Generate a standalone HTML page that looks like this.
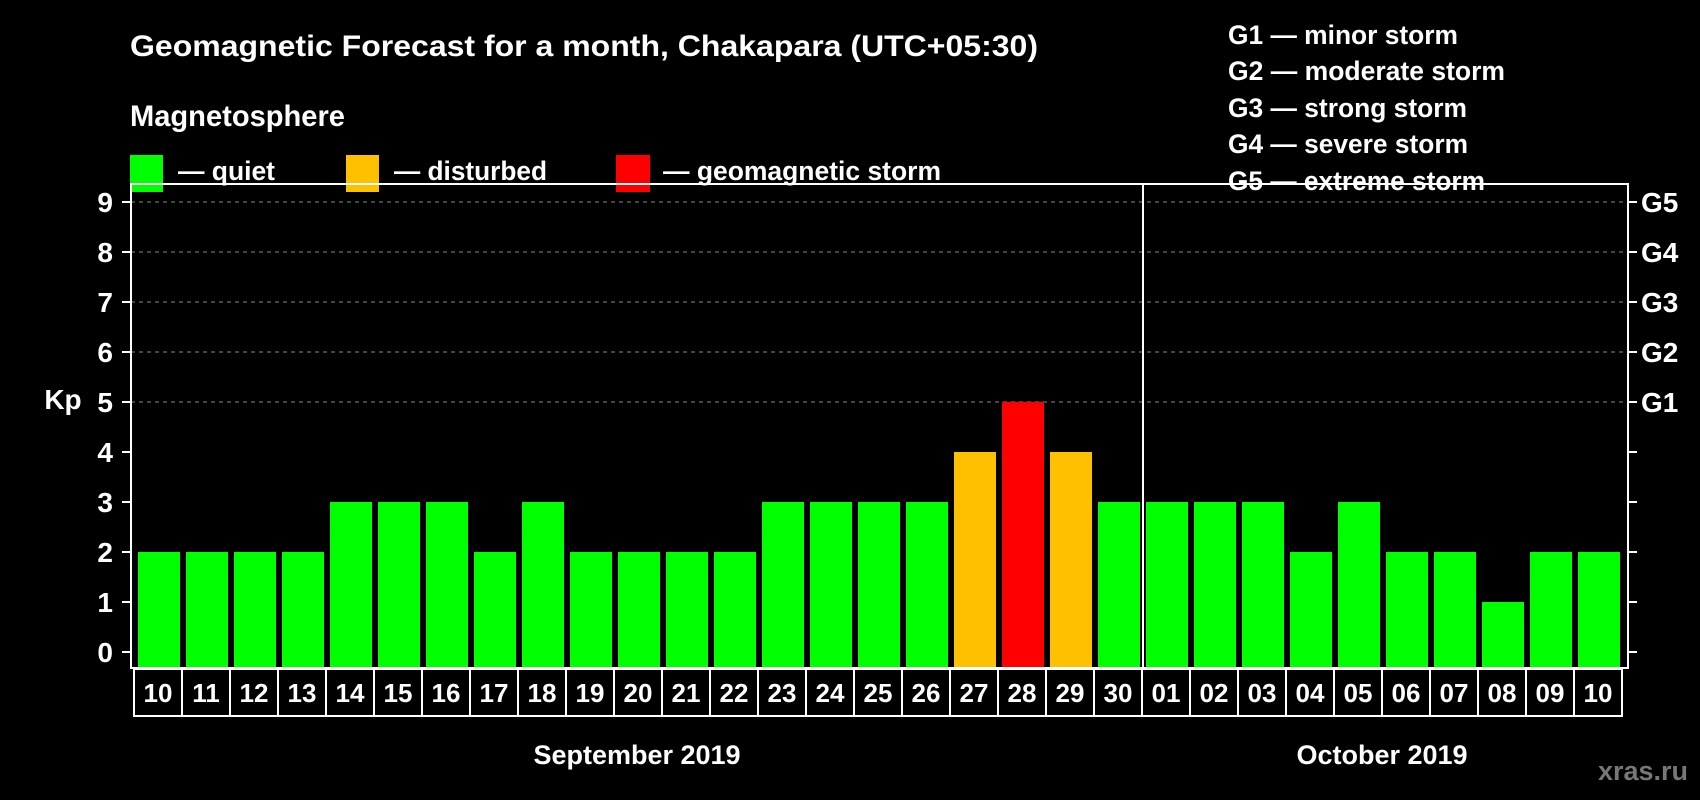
<!DOCTYPE html>
<html><head><meta charset="utf-8"><style>
html,body{margin:0;padding:0;background:#000;}
svg{display:block;font-family:"Liberation Sans",Arial,sans-serif;font-weight:bold;}
</style></head><body>
<svg id="chart" width="1700" height="800" viewBox="0 0 1700 800">
<rect x="0" y="0" width="1700" height="800" fill="#000"/>
<text x="130" y="56" font-size="30" fill="#fff" textLength="908" lengthAdjust="spacingAndGlyphs">Geomagnetic Forecast for a month, Chakapara (UTC+05:30)</text>
<text x="130" y="126" font-size="30" fill="#fff" textLength="215" lengthAdjust="spacingAndGlyphs">Magnetosphere</text>
<g>
<rect x="130" y="155" width="33" height="37" fill="#00ff00"/>
<text x="178" y="157" dy="23" font-size="27" fill="#fff" textLength="97" lengthAdjust="spacingAndGlyphs">— quiet</text></g>
<g>
<rect x="346" y="155" width="33" height="37" fill="#ffc000"/>
<text x="394" y="157" dy="23" font-size="27" fill="#fff" textLength="153" lengthAdjust="spacingAndGlyphs">— disturbed</text></g>
<g>
<rect x="616" y="155" width="34" height="37" fill="#ff0000"/>
<text x="663" y="157" dy="23" font-size="27" fill="#fff" textLength="278" lengthAdjust="spacingAndGlyphs">— geomagnetic storm</text></g>
<g font-size="27" fill="#fff">
<text x="1228" y="44" textLength="230" lengthAdjust="spacingAndGlyphs">G1 — minor storm</text>
<text x="1228" y="80" textLength="277" lengthAdjust="spacingAndGlyphs">G2 — moderate storm</text>
<text x="1228" y="117" textLength="239" lengthAdjust="spacingAndGlyphs">G3 — strong storm</text>
<text x="1228" y="153" textLength="240" lengthAdjust="spacingAndGlyphs">G4 — severe storm</text>
<text x="1228" y="190" textLength="257" lengthAdjust="spacingAndGlyphs">G5 — extreme storm</text>
</g>
<text x="63" y="409" font-size="28" fill="#fff" text-anchor="middle">Kp</text>
<g id="grid"></g>
<g id="bars"></g>
<g id="axes"></g>
<text x="637" y="764" font-size="27" fill="#fff" text-anchor="middle">September 2019</text>
<text x="1382" y="764" font-size="27" fill="#fff" text-anchor="middle">October 2019</text>
<text x="1688" y="780" font-size="27" fill="#777" text-anchor="end">xras.ru</text>
</svg>
<script>
const days = ["10","11","12","13","14","15","16","17","18","19","20","21","22","23","24","25","26","27","28","29","30","01","02","03","04","05","06","07","08","09","10"];
const kpValues = [2,2,2,2,3,3,3,2,3,2,2,2,2,3,3,3,3,4,5,4,3,3,3,3,2,3,2,2,1,2,2];
const yTicks = [0,1,2,3,4,5,6,7,8,9];
const gLabels = ["G1","G2","G3","G4","G5"];
const gLevels = [5,6,7,8,9];
const monthSplitIndex = 21;

const NS = "http://www.w3.org/2000/svg";
const plotL = 131, plotR = 1628, plotT = 184, plotB = 668;
const y0 = 652, unit = 50;
const step = (plotR - plotL - 9) / days.length;
function yScale(v){ return y0 - v*unit; }
function xScale(i){ return plotL + 7 + i*step; }
function mk(tag, attrs, parent){ const e=document.createElementNS(NS,tag); for(const k in attrs) e.setAttribute(k,attrs[k]); parent.appendChild(e); return e; }
function color(v){ return v>=5 ? "#ff0000" : (v>=4 ? "#ffc000" : "#00ff00"); }

const grid = document.getElementById("grid");
gLevels.forEach((v,i)=>{
  const l = mk("line",{x1:plotL,x2:plotR,y1:yScale(v),y2:yScale(v),stroke:"#888","stroke-width":1,"stroke-dasharray":"4,4"},grid);
  
  
});

const bars = document.getElementById("bars");
kpValues.forEach((v,i)=>{
  const top = yScale(v);
  const r = mk("rect",{x:xScale(i),y:top,width:step-6,height:plotB-1-top,fill:color(v)},bars);
  
  
});

const axes = document.getElementById("axes");
const frame = mk("rect",{x:plotL,y:plotT,width:plotR-plotL,height:plotB-plotT,fill:"none",stroke:"#fff","stroke-width":2},axes);


const divX = xScale(monthSplitIndex) - 3;
const div = mk("line",{x1:divX,x2:divX,y1:plotT,y2:plotB,stroke:"#fff","stroke-width":2},axes);


yTicks.forEach(v=>{
  const y = yScale(v);
  mk("line",{x1:plotL-9,x2:plotL,y1:y,y2:y,stroke:"#fff","stroke-width":2},axes);
  mk("line",{x1:plotR,x2:plotR+9,y1:y,y2:y,stroke:"#fff","stroke-width":2},axes);
  const t = mk("text",{x:113,y:y+10,"font-size":28,fill:"#fff","text-anchor":"end"},axes);
  t.textContent = v;
  
  
});
gLabels.forEach((g,i)=>{
  const t = mk("text",{x:1641,y:yScale(gLevels[i])+10,"font-size":28,fill:"#fff"},axes);
  t.textContent = g;
  
  
});
const boxL = xScale(0) - 4;
const boxR = boxL + step*days.length;
const bf = mk("rect",{x:boxL,y:669,width:boxR-boxL,height:47,fill:"none",stroke:"#fff","stroke-width":2},axes);


days.forEach((d,i)=>{
  const x = boxL + i*step;
  if(i>0) mk("line",{x1:x,x2:x,y1:669,y2:716,stroke:"#fff","stroke-width":2},axes);
  const t = mk("text",{x:x+step/2,y:702,"font-size":26,fill:"#fff","text-anchor":"middle"},axes);
  t.textContent = d;
  
  
});
</script>
</body></html>
